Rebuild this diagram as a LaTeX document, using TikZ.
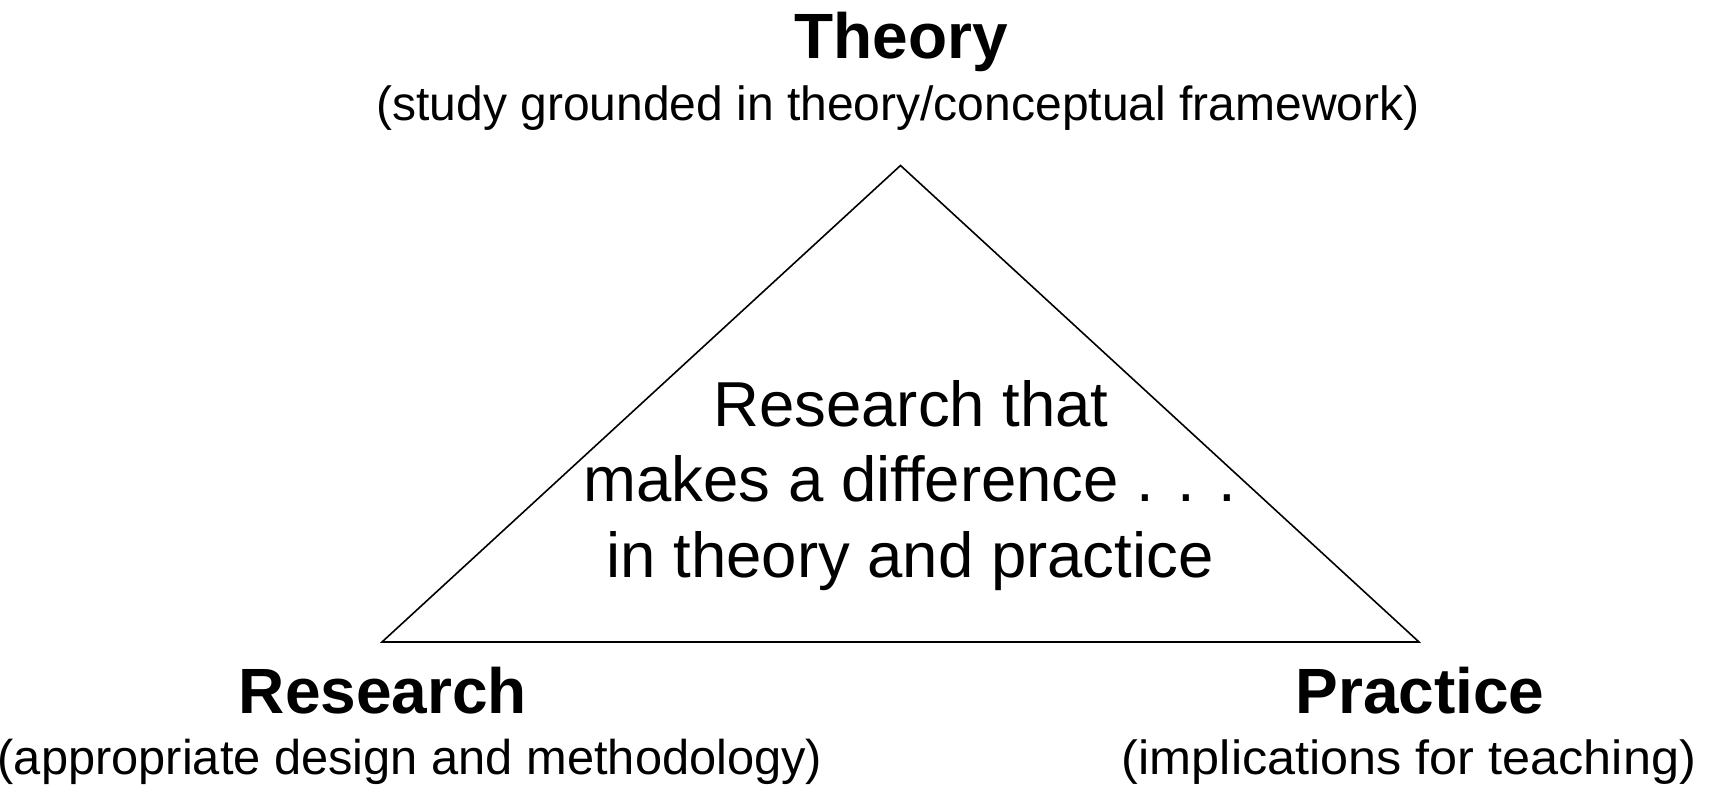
\documentclass[tikz,border=0pt]{standalone}
\usepackage{fontspec}
\usepackage{graphicx}
\setmainfont{Liberation Sans}
\begin{document}
\begin{tikzpicture}[x=1pt,y=1pt,
  head/.style={anchor=base,inner sep=0pt,font=\fontsize{64}{76}\selectfont\bfseries},
  sub/.style={anchor=base,inner sep=0pt,font=\fontsize{48}{58}\selectfont},
  mid/.style={anchor=base,inner sep=0pt,font=\fontsize{63.5}{75}\selectfont},
  tri/.style={draw=black,line width=1.6pt,line join=miter}]
\useasboundingbox (0,0) rectangle (1709,789);
\coordinate (top) at (900.5,623.5);
\coordinate (left) at (382,147);
\coordinate (right) at (1419,147);
\draw[tri] (top) -- (right) -- (left) -- cycle;
\node[head] (theory) at (901,730) {Theory};
\node[sub] (theorysub) at (898,668) {(study grounded in theory/conceptual framework)};
\node[mid] (m1) at (911,362) {Research that};
\node[mid] (m2) at (910,287) {makes a difference . . .};
\node[mid] (m3) at (910,211) {in theory and practice};
\node[head] (research) at (383,75) {Research};
\node[sub,font=\fontsize{48.8}{58}\selectfont] (researchsub) at (410,14) {(appropriate design and methodology)};
\node[head] (practice) at (1420,75) {Practice};
\node[sub] (practicesub) at (1409,14) {\scalebox{1.05}[1]{(implications for teaching)}};
\end{tikzpicture}
\end{document}
